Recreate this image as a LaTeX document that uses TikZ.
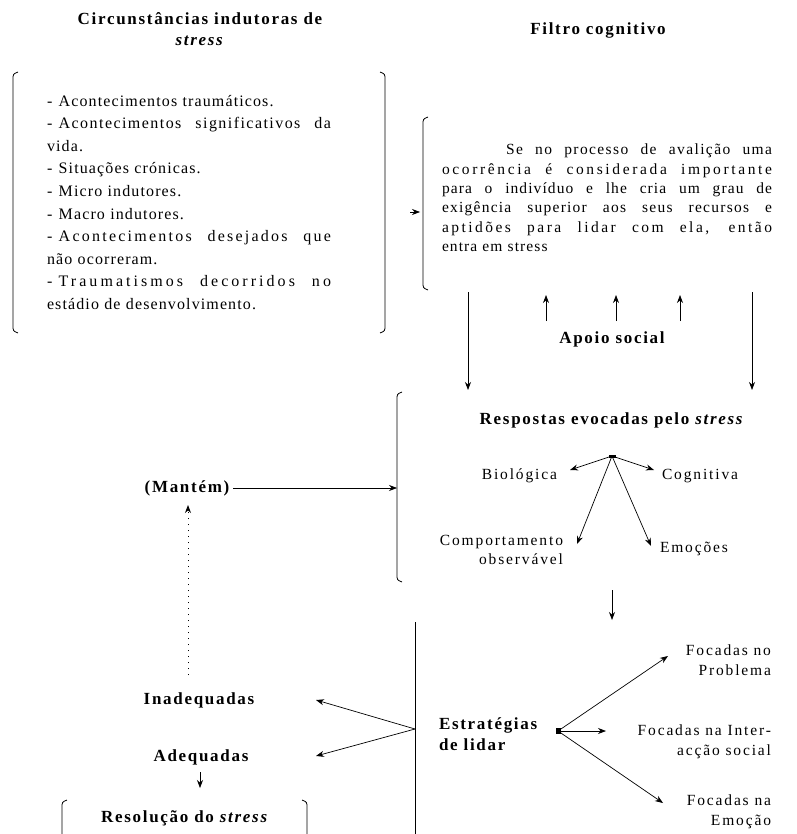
\documentclass[tikz,border=0pt]{standalone}
\usepackage{fontspec}
\setmainfont[LetterSpace=6]{Liberation Serif}
\usetikzlibrary{arrows.meta}
% a line stretched to a given width by its interword spaces
\newcommand\spread[2]{\leavevmode\hbox to #1{\spaceskip=0.25em plus 1fil\relax #2}}
% letter-spaced variant of a line
\newcommand\ls[1]{\addfontfeature{LetterSpace=#1}}
% list dash with a fixed gap after it
\newcommand\li{-\hspace{0.4em}}
\begin{document}
\begin{tikzpicture}[x=1pt,y=-1pt,
  every node/.style={inner sep=0pt, outer sep=0pt},
  head/.style={font=\bfseries\fontsize{17}{21}\selectfont\addfontfeature{LetterSpace=10}},
  body/.style={font=\fontsize{16}{22.6}\selectfont\addfontfeature{LetterSpace=7}},
  filt/.style={font=\fontsize{15.5}{19.4}\selectfont\addfontfeature{LetterSpace=7}},
  lbl/.style={font=\fontsize{15.5}{19.5}\selectfont\addfontfeature{LetterSpace=12}},
  arr/.style={-{Stealth[length=8pt,width=6pt]}, line width=0.7pt},
  brk/.style={line width=0.8pt},
  hub/.style={fill, minimum width=4pt, minimum height=3pt}
]
\useasboundingbox (0,0) rectangle (796,834);

% column titles
\node[head, align=center] (tcirc) at (200,29) {Circunstâncias indutoras de\\\textit{stress}};
\node[head] (tfiltro) at (598,30) {Filtro cognitivo};

% bracketed list of stressors
\draw[brk] (18,72) .. controls (13,74) .. (13,80) -- (13,325) .. controls (13,331) .. (18,333);
\draw[brk] (380,72) .. controls (385,74) .. (385,80) -- (385,325) .. controls (385,331) .. (380,333);
\node[body, text width=284pt, align=left, anchor=north west] (lista) at (47,95) {%
\li Acontecimentos traumáticos.\\
\spread{284pt}{\ls{9}\li Acontecimentos significativos da}\\
vida.\\
\li Situações crónicas.\\
\li Micro indutores.\\
\li Macro indutores.\\
\spread{284pt}{\ls{14}\li Acontecimentos desejados que}\\
não ocorreram.\\
\spread{284pt}{\ls{19}\li Traumatismos decorridos no}\\
estádio de desenvolvimento.};

% arrow into the cognitive filter
\coordinate (fin) at (420,212);
\draw[arr] (410,212) -- (fin);

% cognitive filter
\draw[brk] (428,117) .. controls (423,119) .. (423,125) -- (423,282) .. controls (423,288) .. (428,290);
\node[filt, text width=330pt, align=left, anchor=north west] (filtro) at (442,144) {%
\spread{330pt}{\ls{9}\hspace*{64pt}Se no processo de avalição uma}\\
\spread{330pt}{\ls{17}ocorrência é considerada importante}\\
\spread{330pt}{para o indivíduo e lhe cria um grau de}\\
\spread{330pt}{\ls{8}exigência superior aos seus recursos e}\\
\spread{330pt}{\ls{16}aptidões para lidar com ela, então}\\
entra em stress};

% social support
\node[head] (apoio) at (612,339) {Apoio social};
\foreach \x/\n in {546/a, 616/b, 680/c}{
  \coordinate (up\n) at (\x,295);
  \draw[arr] (\x,321) -- (up\n);
}
\coordinate (dl0) at (468,292); \coordinate (dl1) at (468,390);
\coordinate (dr0) at (752,292); \coordinate (dr1) at (752,390);
\draw[arr] (dl0) -- (dl1);
\draw[arr] (dr0) -- (dr1);

% responses evoked by stress
\draw[brk] (402,392) .. controls (397,394) .. (397,400) -- (397,574) .. controls (397,580) .. (402,582);
\node[head] (resp) at (612,420) {Respostas evocadas pelo \textit{stress}};
\node[hub, minimum width=7pt] (h1) at (612,456) {};
\node[lbl, anchor=east] (bio) at (557,476) {Biológica};
\node[lbl, anchor=west] (cog) at (662,476) {Cognitiva};
\node[lbl, align=right, anchor=east] (comp) at (563,550) {Comportamento\\observável};
\node[lbl, anchor=west] (emo) at (660,549) {Emoções};
\coordinate (ebio) at (570,470);
\coordinate (ecog) at (654,470);
\coordinate (ecomp) at (577,544);
\coordinate (eemo) at (651,546);
\draw[arr] (h1.center) -- (ebio);
\draw[arr] (h1.center) -- (ecog);
\draw[arr] (h1.center) -- (ecomp);
\draw[arr] (h1.center) -- (eemo);

% maintains
\node[head] (mant) at (187,488) {(Mantém)};
\coordinate (mantin) at (397,488);
\draw[arr] (mant.east) ++(4,0) -- (mantin);

\coordinate (r0) at (612,590); \coordinate (r1) at (612,620);
\draw[arr] (r0) -- (r1);

% coping strategies
\coordinate (sv0) at (415,622); \coordinate (sv1) at (415,834);
\draw[brk] (sv0) -- (sv1);
\node[head, align=left, anchor=west] (estr) at (439,734) {Estratégias\\de lidar};
\node[hub, minimum width=5pt, minimum height=6pt] (h2) at (558,731) {};
\node[lbl, align=right, anchor=east] (fprob) at (771,660) {Focadas no\\Problema};
\node[lbl, align=right, anchor=east] (finter) at (771,742) {Focadas na Inter-\\acção social};
\node[lbl, align=right, anchor=east] (femo) at (771,812) {Focadas na\\Emoção};
\coordinate (eprob) at (668,656);
\coordinate (einter) at (606,731);
\coordinate (eemoc) at (663,803);
\draw[arr] (h2.center) -- (eprob);
\draw[arr] (h2.center) -- (einter);
\draw[arr] (h2.center) -- (eemoc);

% outcomes
\node[head] (inad) at (199,700) {Inadequadas};
\node[head] (adeq) at (201,757) {Adequadas};
\coordinate (sv) at (415,729);
\coordinate (einad) at (316,700);
\coordinate (eadeq) at (316,756);
\draw[arr] (sv) -- (einad);
\draw[arr] (sv) -- (eadeq);

\coordinate (dot0) at (188,675); \coordinate (dot1) at (188,505);
\draw[arr, dash pattern=on 1.5pt off 4.5pt, line width=0.9pt] (dot0) -- (dot1);

\coordinate (a0) at (200,772); \coordinate (a1) at (200,788);
\draw[arr] (a0) -- (a1);

% resolution
\draw[brk] (67,800) .. controls (62,802) .. (62,808) -- (62,834);
\draw[brk] (302,800) .. controls (307,802) .. (307,808) -- (307,834);
\node[head] (resol) at (185,818) {Resolução do \textit{stress}};
\end{tikzpicture}
\end{document}
